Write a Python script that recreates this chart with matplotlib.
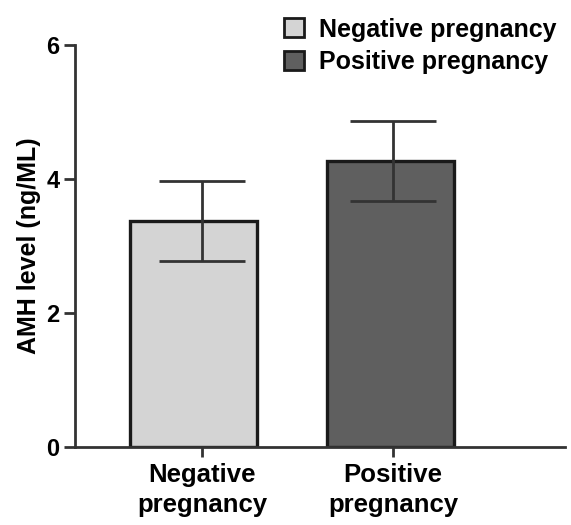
import matplotlib
matplotlib.use("Agg")
import matplotlib.pyplot as plt
from matplotlib.patches import Patch

plt.rcParams['font.family'] = ['Liberation Sans', 'DejaVu Sans']
plt.rcParams['font.weight'] = 'bold'

categories = ["Negative\npregnancy", "Positive\npregnancy"]
series_names = ["Negative pregnancy", "Positive pregnancy"]
means = [3.37, 4.27]
errors = [0.6, 0.6]
colors = ["#d4d4d4", "#5f5f5f"]
yticks = [0, 2, 4, 6]

fig = plt.figure(figsize=(5.71, 5.25), dpi=100)
ax = fig.add_axes([0.131, 0.149, 0.859, 0.765])

x = list(range(len(categories)))
bar_shift = [-0.045, -0.015]
ax.bar([xi + s for xi, s in zip(x, bar_shift)], means, width=0.665, color=colors,
       edgecolor="#1a1a1a", linewidth=2.4, zorder=2)
ax.errorbar(x, means, yerr=errors, fmt="none", ecolor="#333333", elinewidth=2,
            capsize=31, capthick=2, zorder=3)

ax.set_xlim(-0.665, 1.9)
ax.set_ylim(0, 6)
ax.set_yticks(yticks)
ax.set_yticklabels([str(t) for t in yticks], fontsize=17, fontweight='bold')
ax.set_xticks(x)
ax.set_xticklabels(categories, fontsize=18.5, fontweight='bold', linespacing=1.3)
ax.set_ylabel("AMH level (ng/ML)", fontsize=18, fontweight='bold', labelpad=4)

for s in ["top", "right"]:
    ax.spines[s].set_visible(False)
for s in ["left", "bottom"]:
    ax.spines[s].set_linewidth(2)
    ax.spines[s].set_color("#333333")
ax.tick_params(axis='y', direction='out', length=8, width=2, color="#333333", pad=3)
ax.tick_params(axis='x', direction='out', length=7, width=2, color="#333333", pad=5)

handles = [Patch(facecolor=c, edgecolor="#1a1a1a", linewidth=2, label=n) for c, n in zip(colors, series_names)]
fig.legend(handles=handles, loc="upper right", bbox_to_anchor=(1.005, 1.0), frameon=False,
           prop={'size': 18, 'weight': 'bold'}, handlelength=0.8, handleheight=0.8,
           handletextpad=0.6, labelspacing=0.35, borderaxespad=0.3)

fig.savefig("out.png", dpi=100)
